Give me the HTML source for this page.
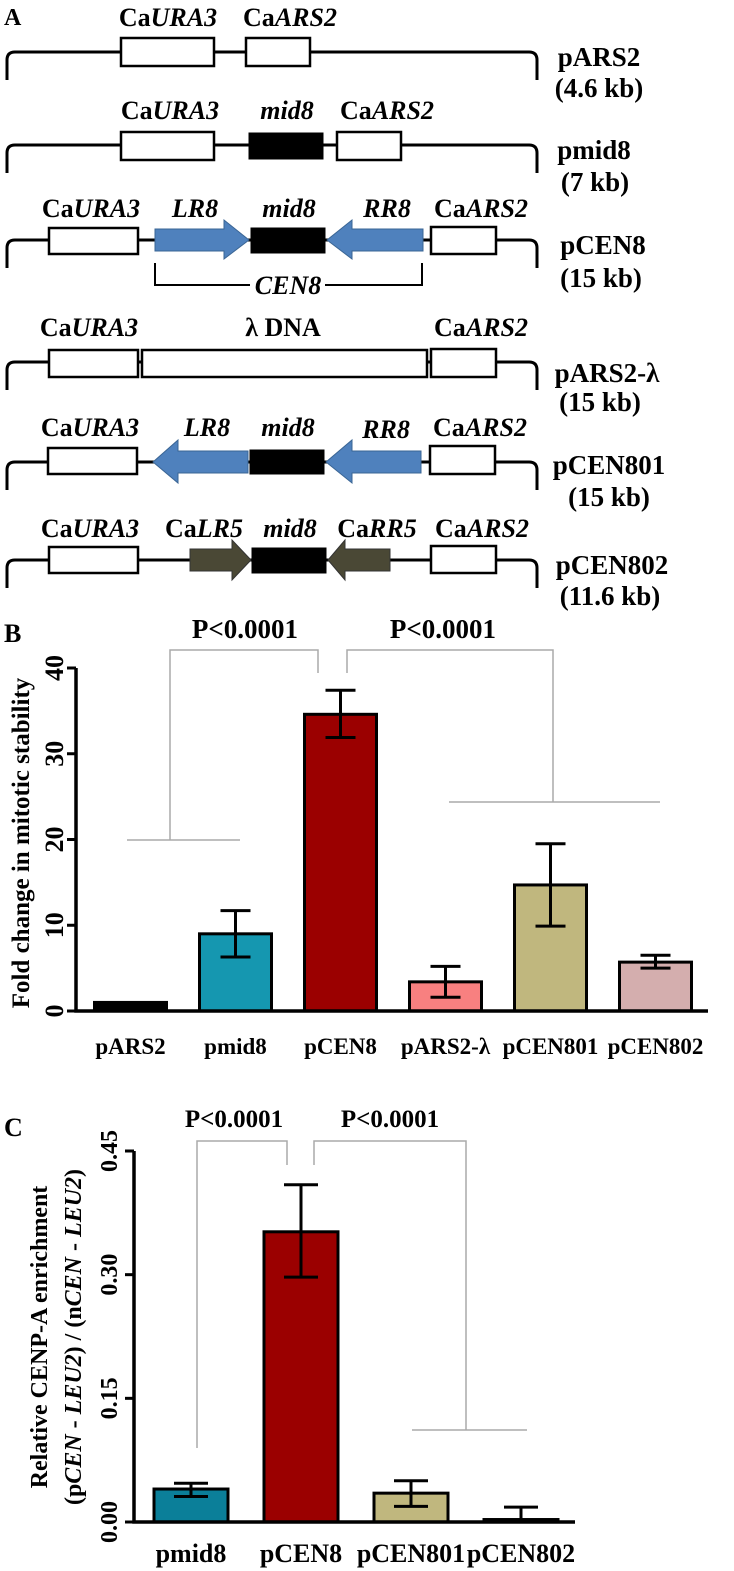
<!DOCTYPE html>
<html><head><meta charset="utf-8"><style>
html,body{margin:0;padding:0;background:#fff}
svg{display:block;font-family:"Liberation Serif",serif;font-weight:bold}
</style></head><body>
<svg id="fig" width="734" height="1571" viewBox="0 0 734 1571">
<g id="panelA" fill="none" stroke="#000" stroke-width="3">
<text x="4" y="25" font-size="24" fill="#000" stroke="none">A</text>
<g>
<path d="M7,80 V60 Q7,52 15,52 H529 Q537,52 537,60 V80"/>
<rect x="121" y="38" width="93" height="28" fill="#fff" stroke-width="2.5"/>
<rect x="246" y="38" width="64" height="28" fill="#fff" stroke-width="2.5"/>
<g stroke="none" fill="#000" font-size="26" text-anchor="middle">
<text x="168" y="26">Ca<tspan font-style="italic">URA3</tspan></text>
<text x="290" y="26">Ca<tspan font-style="italic">ARS2</tspan></text>
<text x="599" y="66" font-size="27">pARS2</text>
<text x="599" y="97" font-size="27">(4.6 kb)</text></g>
</g>
<g>
<path d="M7,173 V153 Q7,145 15,145 H529 Q537,145 537,153 V173"/>
<rect x="121" y="132" width="93" height="28" fill="#fff" stroke-width="2.5"/>
<rect x="249" y="133" width="74" height="26" fill="#000" stroke-width="1"/>
<rect x="337" y="132" width="64" height="28" fill="#fff" stroke-width="2.5"/>
<g stroke="none" fill="#000" font-size="26" text-anchor="middle">
<text x="170" y="119">Ca<tspan font-style="italic">URA3</tspan></text>
<text x="287" y="119" font-style="italic">mid8</text>
<text x="387" y="119">Ca<tspan font-style="italic">ARS2</tspan></text>
<text x="594" y="159" font-size="27">pmid8</text>
<text x="595" y="191" font-size="27">(7 kb)</text></g>
</g>
<g>
<path d="M7,268 V248 Q7,240 15,240 H529 Q537,240 537,248 V268"/>
<rect x="49" y="228" width="89" height="26" fill="#fff" stroke-width="2.5"/>
<polygon points="155,229 224,229 224,220 249,240 224,259 224,251 155,251" fill="#4f81bd" stroke="#3a6594" stroke-width="1"/>
<rect x="251" y="228" width="74" height="25" fill="#000" stroke-width="1"/>
<polygon points="423,229 352,229 352,220 327,240 352,259 352,251 423,251" fill="#4f81bd" stroke="#3a6594" stroke-width="1"/>
<rect x="431" y="227" width="65" height="27" fill="#fff" stroke-width="2.5"/>
<path d="M155,263 V285 H250 M325,285 H422 V263" stroke-width="2"/>
<g stroke="none" fill="#000" font-size="26" text-anchor="middle">
<text x="91" y="217">Ca<tspan font-style="italic">URA3</tspan></text>
<text x="195" y="217" font-style="italic">LR8</text>
<text x="289" y="217" font-style="italic">mid8</text>
<text x="387" y="217" font-style="italic">RR8</text>
<text x="481" y="217">Ca<tspan font-style="italic">ARS2</tspan></text>
<text x="288" y="294" font-style="italic">CEN8</text>
<text x="603" y="254" font-size="27">pCEN8</text>
<text x="601" y="287" font-size="27">(15 kb)</text></g>
</g>
<g>
<path d="M7,390 V370 Q7,362 15,362 H529 Q537,362 537,370 V390"/>
<rect x="49" y="350" width="89" height="27" fill="#fff" stroke-width="2.5"/>
<rect x="142" y="350" width="285" height="27" fill="#fff" stroke-width="2.5"/>
<rect x="431" y="349" width="65" height="28" fill="#fff" stroke-width="2.5"/>
<g stroke="none" fill="#000" font-size="26" text-anchor="middle">
<text x="89" y="336">Ca<tspan font-style="italic">URA3</tspan></text>
<text x="283" y="336">λ DNA</text>
<text x="481" y="336">Ca<tspan font-style="italic">ARS2</tspan></text>
<text x="607" y="382" font-size="27">pARS2-λ</text>
<text x="600" y="411" font-size="27">(15 kb)</text></g>
</g>
<g>
<path d="M7,490 V470 Q7,462 15,462 H529 Q537,462 537,470 V490"/>
<rect x="48" y="448" width="89" height="26" fill="#fff" stroke-width="2.5"/>
<polygon points="248,451 178,451 178,440 153,462 178,483 178,473 248,473" fill="#4f81bd" stroke="#3a6594" stroke-width="1"/>
<rect x="250" y="450" width="74" height="24" fill="#000" stroke-width="1"/>
<polygon points="421,451 352,451 352,440 326,462 352,483 352,473 421,473" fill="#4f81bd" stroke="#3a6594" stroke-width="1"/>
<rect x="430" y="446" width="65" height="28" fill="#fff" stroke-width="2.5"/>
<g stroke="none" fill="#000" font-size="26" text-anchor="middle">
<text x="90" y="436">Ca<tspan font-style="italic">URA3</tspan></text>
<text x="207" y="436" font-style="italic">LR8</text>
<text x="288" y="436" font-style="italic">mid8</text>
<text x="386" y="438" font-style="italic">RR8</text>
<text x="480" y="436">Ca<tspan font-style="italic">ARS2</tspan></text>
<text x="609" y="474" font-size="27">pCEN801</text>
<text x="609" y="506" font-size="27">(15 kb)</text></g>
</g>
<g>
<path d="M7,588 V568 Q7,560 15,560 H529 Q537,560 537,568 V588"/>
<rect x="49" y="547" width="89" height="26" fill="#fff" stroke-width="2.5"/>
<polygon points="190,549 232,549 232,540 251,560 232,580 232,571 190,571" fill="#4a4835" stroke="#333" stroke-width="1"/>
<rect x="252" y="548" width="74" height="25" fill="#000" stroke-width="1"/>
<polygon points="390,549 345,549 345,540 328,560 345,580 345,571 390,571" fill="#4a4835" stroke="#333" stroke-width="1"/>
<rect x="431" y="546" width="65" height="27" fill="#fff" stroke-width="2.5"/>
<g stroke="none" fill="#000" font-size="26" text-anchor="middle">
<text x="90" y="537">Ca<tspan font-style="italic">URA3</tspan></text>
<text x="204" y="537">Ca<tspan font-style="italic">LR5</tspan></text>
<text x="290" y="537" font-style="italic">mid8</text>
<text x="377" y="537">Ca<tspan font-style="italic">RR5</tspan></text>
<text x="482" y="537">Ca<tspan font-style="italic">ARS2</tspan></text>
<text x="612" y="574" font-size="27">pCEN802</text>
<text x="610" y="605" font-size="27">(11.6 kb)</text></g>
</g>
</g>

<g id="panelB"></g>
<g id="panelC"></g>
</svg>
<script>
const bCats = ["pARS2","pmid8","pCEN8","pARS2-λ","pCEN801","pCEN802"];
const bVals = [1, 9, 34.6, 3.4, 14.7, 5.7];
const bErrLo = [1, 6.3, 31.9, 1.6, 9.9, 5.0];
const bErrHi = [1, 11.7, 37.4, 5.2, 19.5, 6.5];
const bColors = ["#000000","#1597b0","#9b0000","#f88080","#c0b77e","#d4aeae"];
const bTicks = [0, 10, 20, 30, 40];
const cCats = ["pmid8","pCEN8","pCEN801","pCEN802"];
const cVals = [0.040, 0.352, 0.035, 0.003];
const cErrLo = [0.031, 0.297, 0.019, 0.0];
const cErrHi = [0.047, 0.409, 0.050, 0.018];
const cColors = ["#0b7f99","#9b0000","#c0b77e","#000000"];
const cTickVals = [0, 0.15, 0.30, 0.45];
const cTickLabels = ["0.00","0.15","0.30","0.45"];

const NS = "http://www.w3.org/2000/svg";
function mk(parent, tag, attrs, text){
  const e = document.createElementNS(NS, tag);
  for (const k in attrs) e.setAttribute(k, attrs[k]);
  if (text !== undefined) e.textContent = text;
  parent.appendChild(e);
  return e;
}

(function(){
  const g = document.getElementById("panelB");
  const x0 = 76, yBase = 1011, yTop = 668, xEnd = 708, yMax = 40;
  const y = v => yBase - v / yMax * (yBase - yTop);
  const bandStart = 78, band = 105, bw = 72;
  const xc = i => bandStart + band * (i + 0.5);
  let t = mk(g, "text", {x: 4, y: 642, "font-size": 26});
  t.textContent = "B";
  
  
  bCats.forEach((c, i) => {
    const top = y(bVals[i]);
    const r = mk(g, "rect", {x: xc(i) - bw/2, y: top, width: bw, height: yBase - top, fill: bColors[i], stroke: "#000", "stroke-width": 3});
    
    
    if (bErrHi[i] > bErrLo[i]) {
      const e = mk(g, "path", {d: `M${xc(i)},${y(bErrLo[i])}V${y(bErrHi[i])}M${xc(i)-15},${y(bErrHi[i])}H${xc(i)+15}M${xc(i)-15},${y(bErrLo[i])}H${xc(i)+15}`, stroke: "#000", "stroke-width": 3, fill: "none"});
      
      
    }
    const l = mk(g, "text", {x: xc(i), y: 1054, "font-size": 23, "text-anchor": "middle"}, c);
    
    
  });
  const ax = mk(g, "path", {d: `M${x0},${yTop}V${yBase}H${xEnd}`, stroke: "#000", "stroke-width": 3.5, fill: "none"});
  
  
  bTicks.forEach(v => {
    const tk = mk(g, "path", {d: `M${x0-9},${y(v)}H${x0}`, stroke: "#000", "stroke-width": 3});
    
    
    const tl = mk(g, "text", {x: 0, y: 0, "font-size": 26, "text-anchor": "middle", transform: `translate(63,${y(v)}) rotate(-90)`}, String(v));
    
    
  });
  const yt = mk(g, "text", {x: 0, y: 0, "font-size": 25, "text-anchor": "middle", transform: "translate(29,843) rotate(-90)"}, "Fold change in mitotic stability");
  
  
  const br = mk(g, "path", {d: "M127,840H240M170,840V650H318V673M347,673V650H553V802M449,802H660", stroke: "#aaa", "stroke-width": 1.5, fill: "none"});
  
  
  const p1 = mk(g, "text", {x: 245, y: 638, "font-size": 27, "text-anchor": "middle"}, "P<0.0001");
  
  
  const p2 = mk(g, "text", {x: 443, y: 638, "font-size": 27, "text-anchor": "middle"}, "P<0.0001");
  
  
})();

(function(){
  const g = document.getElementById("panelC");
  const x0 = 134, yBase = 1522, yTop = 1151, xEnd = 575, yMax = 0.45;
  const y = v => yBase - v / yMax * (yBase - yTop);
  const bandStart = 136, band = 110, bw = 74;
  const xc = i => bandStart + band * (i + 0.5);
  let t = mk(g, "text", {x: 4, y: 1136, "font-size": 26});
  t.textContent = "C";
  
  
  cCats.forEach((c, i) => {
    const top = y(cVals[i]);
    const r = mk(g, "rect", {x: xc(i) - bw/2, y: top, width: bw, height: Math.max(yBase - top, 0), fill: cColors[i], stroke: "#000", "stroke-width": 3});
    
    
    const e = mk(g, "path", {d: `M${xc(i)},${y(cErrLo[i])}V${y(cErrHi[i])}M${xc(i)-17},${y(cErrHi[i])}H${xc(i)+17}` + (cErrLo[i] > 0 ? `M${xc(i)-17},${y(cErrLo[i])}H${xc(i)+17}` : ""), stroke: "#000", "stroke-width": 3, fill: "none"});
    
    
    const l = mk(g, "text", {x: xc(i), y: 1562, "font-size": 26, "text-anchor": "middle"}, c);
    
    
  });
  const ax = mk(g, "path", {d: `M${x0},${yTop}V${yBase}H${xEnd}`, stroke: "#000", "stroke-width": 3.5, fill: "none"});
  
  
  cTickVals.forEach((v, k) => {
    const tk = mk(g, "path", {d: `M${x0-9},${y(v)}H${x0}`, stroke: "#000", "stroke-width": 3});
    
    
    const tl = mk(g, "text", {x: 0, y: 0, "font-size": 24, "text-anchor": "middle", transform: `translate(117,${y(v)}) rotate(-90)`}, cTickLabels[k]);
    
    
  });
  const yt1 = mk(g, "text", {x: 0, y: 0, "font-size": 24, "text-anchor": "middle", transform: "translate(47,1337) rotate(-90)"}, "Relative CENP-A enrichment");
  
  
  const yt2 = mk(g, "text", {x: 0, y: 0, "font-size": 24, "text-anchor": "middle", transform: "translate(81,1337) rotate(-90)"});
  yt2.innerHTML = '(p<tspan font-style="italic">CEN</tspan> - <tspan font-style="italic">LEU2</tspan>) / (n<tspan font-style="italic">CEN</tspan> - <tspan font-style="italic">LEU2</tspan>)';
  
  
  const br = mk(g, "path", {d: "M197,1448V1141H287V1165M314,1165V1141H466V1430M412,1430H527", stroke: "#aaa", "stroke-width": 1.5, fill: "none"});
  
  
  const p1 = mk(g, "text", {x: 234, y: 1127, "font-size": 25, "text-anchor": "middle"}, "P<0.0001");
  
  
  const p2 = mk(g, "text", {x: 390, y: 1127, "font-size": 25, "text-anchor": "middle"}, "P<0.0001");
  
  
})();
</script>
</body></html>
